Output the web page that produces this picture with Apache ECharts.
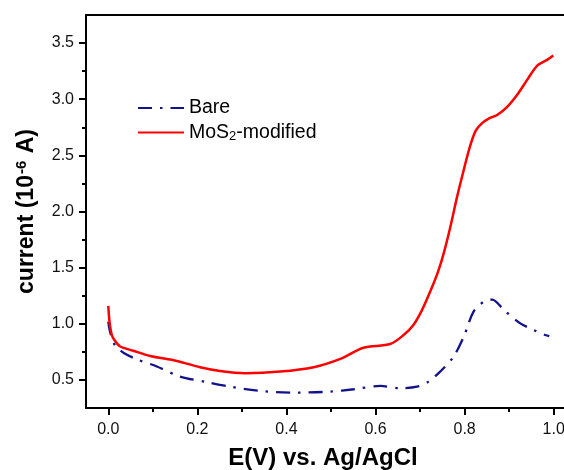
<!DOCTYPE html>
<html>
<head>
<meta charset="utf-8">
<script src="https://cdn.jsdelivr.net/npm/echarts@6/dist/echarts.min.js"></script>
<style>html,body{margin:0;padding:0;background:#fff}#c{width:564px;height:470px}</style>
</head>
<body>
<div id="c"></div>
<script>
// Potential (V)
const bareX = [0.000, 0.004, 0.015, 0.035, 0.064, 0.109, 0.161, 0.221, 0.273, 0.348, 0.423, 0.498, 0.551, 0.611, 0.655, 0.693, 0.719, 0.745, 0.775, 0.798, 0.820, 0.843, 0.862, 0.888, 0.925, 0.955, 0.981, 0.990];
const bareY = [1.02, 0.93, 0.81, 0.74, 0.684, 0.62, 0.53, 0.48, 0.44, 0.40, 0.387, 0.396, 0.417, 0.447, 0.426, 0.44, 0.485, 0.574, 0.707, 0.885, 1.108, 1.197, 1.215, 1.123, 1.004, 0.945, 0.90, 0.89];
const mosX = [0.000, 0.002, 0.004, 0.008, 0.013, 0.026, 0.056, 0.094, 0.154, 0.206, 0.251, 0.307, 0.386, 0.461, 0.521, 0.573, 0.633, 0.663, 0.685, 0.704, 0.722, 0.740, 0.753, 0.768, 0.783, 0.798, 0.812, 0.825, 0.840, 0.855, 0.873, 0.895, 0.918, 0.940, 0.963, 0.985, 0.999];
const mosY = [1.16, 1.05, 0.98, 0.90, 0.86, 0.80, 0.76, 0.713, 0.669, 0.613, 0.58, 0.56, 0.574, 0.613, 0.687, 0.787, 0.82, 0.90, 0.99, 1.12, 1.28, 1.46, 1.627, 1.864, 2.13, 2.37, 2.58, 2.72, 2.79, 2.83, 2.86, 2.93, 3.04, 3.17, 3.30, 3.35, 3.39];
const xTicks = [0.0, 0.2, 0.4, 0.6, 0.8, 1.0];
const xMinor = [0.1, 0.3, 0.5, 0.7, 0.9];
const yTicks = [0.5, 1.0, 1.5, 2.0, 2.5, 3.0, 3.5];
const yMinor = [0.75, 1.25, 1.75, 2.25, 2.75, 3.25];
const seriesNames = ['Bare', 'MoS2-modified'];

const toPairs = (xs, ys) => xs.map((x, i) => [x, ys[i]]);
const font = 'Liberation Sans, Arial, sans-serif';
const axCol = '#000';
const xMin = -0.05, xMax = 1.05;

const chart = echarts.init(document.getElementById('c'), null, {renderer: 'canvas'});
chart.setOption({
  animation: false,
  backgroundColor: '#fff',
  grid: {left: 86, top: 15, width: 490, height: 393, containLabel: false, outerBoundsMode: 'none'},
  legend: {
    left: 137, top: 98, orient: 'vertical', itemWidth: 46, itemHeight: 14, itemGap: 4, padding: 0,
    data: seriesNames,
    itemStyle: {opacity: 0},
    formatter: function (n) { return n === 'Bare' ? '{a|Bare}' : '{a|MoS}{sub|2}{a|-modified}'; },
    textStyle: {
      fontFamily: font, color: '#000', fontSize: 19.5,
      rich: {
        a: {fontFamily: font, fontSize: 19.5, color: '#000', lineHeight: 20},
        sub: {fontFamily: font, fontSize: 13, color: '#000', lineHeight: 20, padding: [8, 0, 0, 0]}
      }
    }
  },
  xAxis: [
    {
      type: 'value', min: xMin, max: xMax, position: 'bottom',
      name: 'E(V) vs. Ag/AgCl', nameLocation: 'middle', nameGap: 38,
      nameTextStyle: {fontFamily: font, fontWeight: 'bold', fontSize: 24, color: '#000', padding: [0, 16, 0, 0]},
      axisLine: {show: true, onZero: false, lineStyle: {color: axCol, width: 2}},
      axisTick: {show: true, inside: false, length: 7, customValues: xTicks, lineStyle: {color: axCol, width: 2}},
      axisLabel: {show: true, customValues: xTicks, margin: 14, fontFamily: font, fontSize: 16, color: '#111', formatter: v => v.toFixed(1)},
      splitLine: {show: false}
    },
    {
      type: 'value', min: xMin, max: xMax, position: 'bottom',
      axisLine: {show: false, onZero: false},
      axisTick: {show: true, inside: false, length: 4, customValues: xMinor, lineStyle: {color: axCol, width: 2}},
      axisLabel: {show: false}, splitLine: {show: false}
    },
    {
      type: 'value', min: xMin, max: xMax, position: 'top',
      axisLine: {show: true, onZero: false, lineStyle: {color: axCol, width: 2}},
      axisTick: {show: false}, axisLabel: {show: false}, splitLine: {show: false}
    }
  ],
  yAxis: [
    {
      type: 'value', min: 0.25, max: 3.75, position: 'left',
      name: '{a|current (10}{sup|-6}{a| A)}', nameLocation: 'middle', nameGap: 46, nameRotate: 90,
      nameTextStyle: {
        fontFamily: font, fontWeight: 'bold', fontSize: 23, color: '#000',
        rich: {
          a: {fontFamily: font, fontWeight: 'bold', fontSize: 23, color: '#000', lineHeight: 26},
          sup: {fontFamily: font, fontWeight: 'bold', fontSize: 15, color: '#000', lineHeight: 26, padding: [0, 1, 11, 1]}
        }
      },
      axisLine: {show: true, onZero: false, lineStyle: {color: axCol, width: 2}},
      axisTick: {show: true, inside: false, length: 7, customValues: yTicks, lineStyle: {color: axCol, width: 2}},
      axisLabel: {show: true, customValues: yTicks, margin: 12, fontFamily: font, fontSize: 16, color: '#111', formatter: v => v.toFixed(1)},
      splitLine: {show: false}
    },
    {
      type: 'value', min: 0.25, max: 3.75, position: 'left',
      axisLine: {show: false, onZero: false},
      axisTick: {show: true, inside: false, length: 4, customValues: yMinor, lineStyle: {color: axCol, width: 2}},
      axisLabel: {show: false}, splitLine: {show: false}
    }
  ],
  series: [
    {
      name: seriesNames[0], type: 'line', xAxisIndex: 0, yAxisIndex: 0,
      data: toPairs(bareX, bareY), symbol: 'none', smooth: 0.3,
      lineStyle: {color: '#12128a', width: 2.3, type: [14, 8, 2.5, 8]},
      itemStyle: {color: '#12128a'}, z: 2
    },
    {
      name: seriesNames[1], type: 'line', xAxisIndex: 0, yAxisIndex: 0,
      data: toPairs(mosX, mosY), symbol: 'none', smooth: 0.3,
      lineStyle: {color: '#ff0000', width: 2.5},
      itemStyle: {color: '#ff0000'}, z: 3
    }
  ]
});
</script>
</body>
</html>
